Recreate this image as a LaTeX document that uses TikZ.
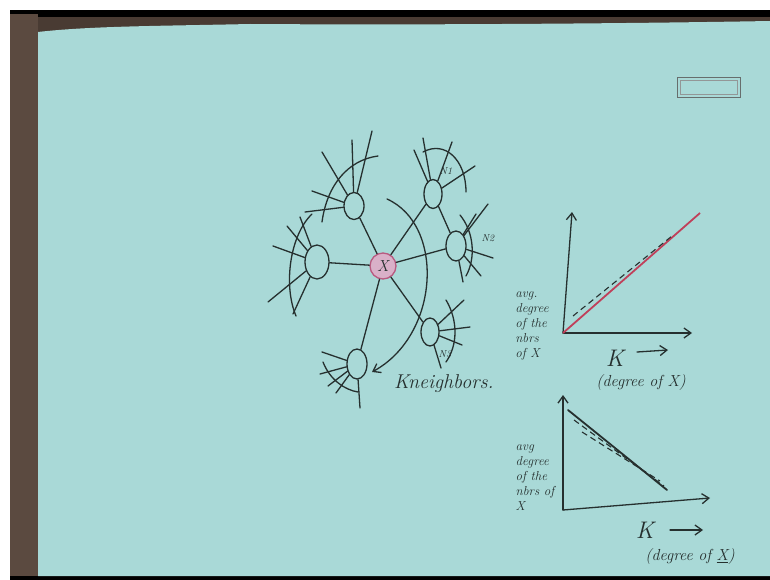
\documentclass[tikz,border=0pt]{standalone}
\usetikzlibrary{arrows.meta,shapes.geometric}
\definecolor{paper}{HTML}{A9D9D7}
\definecolor{ink}{HTML}{26302F}
\definecolor{brownframe}{HTML}{5B4A40}
\definecolor{pinkfill}{HTML}{D9B0C8}
\definecolor{pinkline}{HTML}{B85A80}
\definecolor{redline}{HTML}{C0405A}
\tikzset{
  pen/.style={draw=ink, line width=1.3pt, line cap=round, line join=round},
  nbr/.style={ellipse, draw=ink, line width=1.3pt, minimum width=#1},
  lbl/.style={text=ink, font=\itshape\fontsize{13}{15}\selectfont, align=left, inner sep=0pt},
  small lbl/.style={text=ink, font=\itshape\fontsize{10}{11}\selectfont, inner sep=0pt},
  tip/.style={-{Straight Barb[length=7pt,width=10pt]}},
  dash marks/.style={draw=ink, line width=1.1pt, dash pattern=on 6pt off 4pt}
}
\begin{document}
\begin{tikzpicture}[x=1pt,y=-1pt]
\useasboundingbox (0,0) rectangle (770,580);
% frame
\fill[white] (0,0) rectangle (770,580);
\fill[brownframe!80!black] (10,16) rectangle (770,34);
\fill[black] (10,10) rectangle (770,17);
\fill[brownframe] (10,14) rectangle (38,580);
\fill[black] (10,576) rectangle (770,580);
\fill[paper] (38,32) .. controls (90,26) and (160,26) .. (250,24) .. controls (400,25) and (600,24) .. (770,21) -- (770,576) -- (38,576) -- cycle;
% top-right tag box
\draw[ink!70, line width=0.7pt] (677,77) rectangle (740,97);
\draw[ink!50, line width=0.6pt] (680,80) rectangle (737,94);

% central node and neighbours
\node[circle, draw=pinkline, fill=pinkfill, line width=1.3pt, minimum size=26pt, inner sep=0pt, text=ink, font=\itshape\fontsize{16}{18}\selectfont] (x) at (383,266) {X};
\node[nbr=20pt, minimum height=27pt] (ul) at (354,206) {};
\node[nbr=24pt, minimum height=34pt] (lf) at (317,262) {};
\node[nbr=18pt, minimum height=29pt] (n1) at (433,194) {};
\node[nbr=20pt, minimum height=30pt] (n2) at (456,246) {};
\node[nbr=18pt, minimum height=28pt] (n3) at (430,332) {};
\node[nbr=20pt, minimum height=30pt] (bl) at (357,364) {};

\foreach \n in {ul,lf,n1,n2,n3,bl} \draw[pen] (x) -- (\n);
\draw[pen] (n1) -- (n2);

% spokes of the neighbours
\foreach \p in {(322,152),(352,140),(372,131),(312,191),(305,212)} \draw[pen] (ul) -- \p;
\draw[pen] (322,222) .. controls (327,185) and (348,160) .. (378,156);

\foreach \p in {(273,246),(268,302),(293,314),(300,217),(287,226)} \draw[pen] (lf) -- \p;
\draw[pen] (312,214) .. controls (290,235) and (283,285) .. (296,316);

\foreach \p in {(423,138),(414,150),(475,166),(452,142)} \draw[pen] (n1) -- \p;
\draw[pen] (423,152) .. controls (445,140) and (466,160) .. (466,192);
\node[small lbl] (l1) at (446,171) {N1};

\foreach \p in {(488,204),(476,214),(493,258),(481,276),(463,282)} \draw[pen] (n2) -- \p;
\draw[pen] (460,215) .. controls (474,232) and (476,258) .. (466,276);
\node[small lbl] (l2) at (488,238) {N2};

\foreach \p in {(464,300),(470,327),(462,345),(441,368)} \draw[pen] (n3) -- \p;
\draw[pen] (446,300) .. controls (458,320) and (458,345) .. (446,362);
\node[small lbl] (l3) at (445,354) {N3};

\foreach \p in {(322,352),(320,374),(336,393),(360,408),(328,386)} \draw[pen] (bl) -- \p;
\draw[pen] (323,362) .. controls (330,380) and (345,390) .. (358,392);

% K neighbours arc
\coordinate (ks) at (387,199);
\coordinate (ke) at (372,372);
\draw[pen, tip] (ks) .. controls (445,225) and (440,335) .. (ke);
\node[text=ink, font=\itshape\fontsize{20}{22}\selectfont, anchor=west, inner sep=0pt] (kn) at (394,384) {Kneighbors.};

% graph 1 (increasing)
\coordinate (o1) at (563,333);
\coordinate (y1) at (572,212);
\coordinate (x1) at (692,333);
\coordinate (r1) at (700,213);
\draw[pen, tip] (o1) -- (y1);
\draw[pen, tip] (o1) -- (x1);
\draw[draw=redline, line width=1.8pt] (o1) -- (r1);
\draw[dash marks] (573,316) -- (672,236);
\node[lbl] (t1) at (532,326) {avg.\\degree\\of the\\nbrs\\of X};
\node[text=ink, font=\itshape\fontsize{24}{26}\selectfont, inner sep=0pt] (k1) at (615,358) {K};
\coordinate (a1s) at (637,352);
\coordinate (a1e) at (668,350);
\draw[pen, tip] (a1s) -- (a1e);
\node[text=ink, font=\itshape\fontsize{16}{18}\selectfont, inner sep=0pt] (d1) at (641,383) {(degree of X)};

% graph 2 (decreasing)
\coordinate (o2) at (563,510);
\coordinate (y2) at (563,395);
\coordinate (x2) at (710,498);
\draw[pen, tip] (o2) -- (y2);
\draw[pen, tip] (o2) -- (x2);
\draw[pen, line width=1.8pt] (568,410) -- (667,490);
\draw[dash marks] (582,432) -- (660,481);
\draw[dash marks] (574,420) -- (664,486);
\node[lbl] (t2) at (535,478) {avg\\degree\\of the\\nbrs of\\X};
\node[text=ink, font=\itshape\fontsize{24}{26}\selectfont, inner sep=0pt] (k2) at (645,530) {K};
\coordinate (a2s) at (670,530);
\coordinate (a2e) at (703,530);
\draw[pen, tip] (a2s) -- (a2e);
\node[text=ink, font=\itshape\fontsize{16}{18}\selectfont, inner sep=0pt] (d2) at (690,557) {(degree of \underline{X})};
\end{tikzpicture}
\end{document}
